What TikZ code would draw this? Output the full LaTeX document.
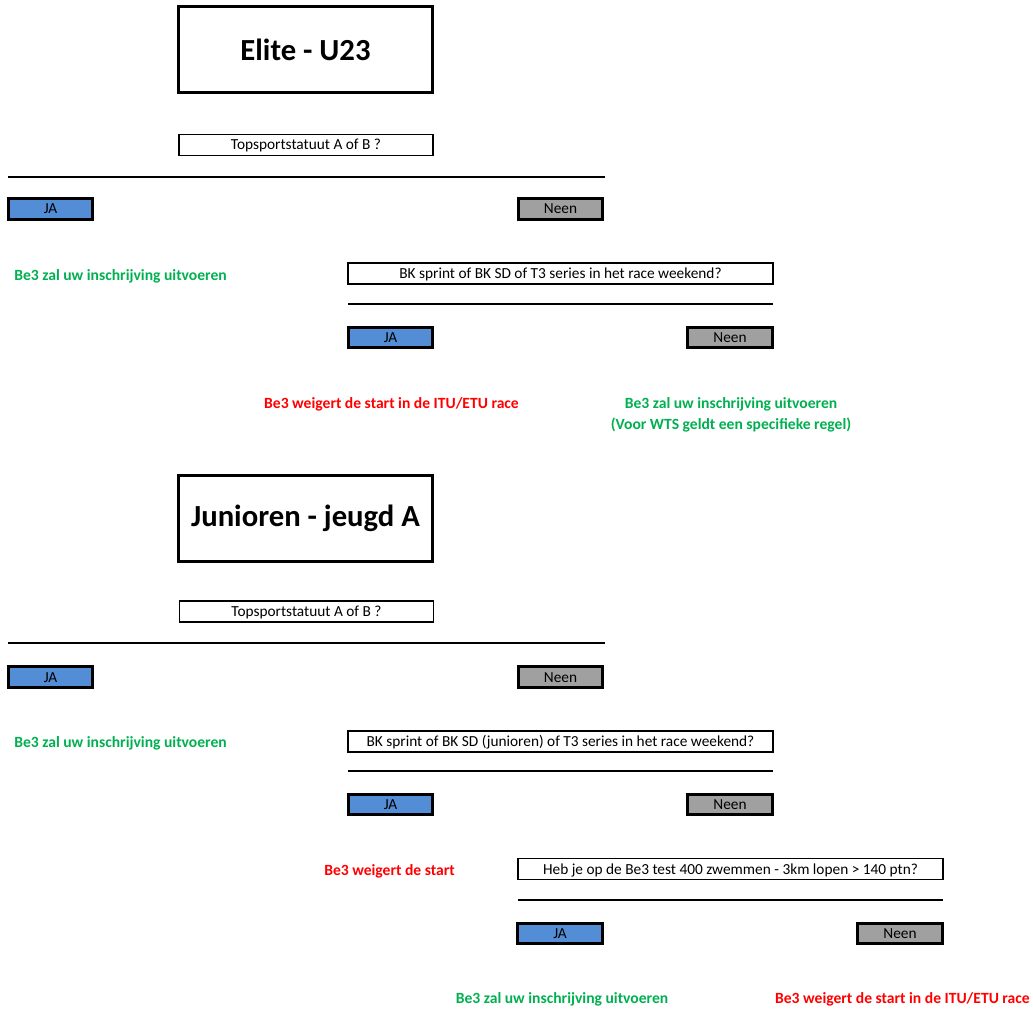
\documentclass[tikz,border=0pt]{standalone}
\usepackage{fontspec}
\setmainfont{Carlito}
\usetikzlibrary{positioning}
\definecolor{jablue}{RGB}{83,141,213}
\definecolor{neengray}{RGB}{160,160,160}
\definecolor{okgreen}{RGB}{0,176,80}
\definecolor{nored}{RGB}{255,0,0}
\tikzset{
  titlebox/.style={draw, line width=2.2pt, minimum width=191pt, minimum height=64pt, font=\bfseries\fontsize{23}{27}\selectfont},
  qbox/.style={draw, line width=0.8pt, minimum height=15.75pt, inner sep=0pt, text height=9pt, text depth=1.5pt, font=\fontsize{11.5}{13}\selectfont},
  jabox/.style={draw, line width=2.1pt, fill=jablue, minimum width=63.5pt, minimum height=15.5pt, inner sep=0pt, text height=9pt, text depth=1.5pt, font=\fontsize{11.5}{13}\selectfont},
  neenbox/.style={jabox, fill=neengray},
  oktext/.style={text=okgreen, font=\bfseries\fontsize{11.7}{15.75}\selectfont, inner sep=0pt},
  notext/.style={text=nored, font=\bfseries\fontsize{11.7}{15.75}\selectfont, inner sep=0pt},
  split/.style={line width=1pt}
}
\begin{document}
\begin{tikzpicture}[x=0.75pt, y=-0.75pt]
\useasboundingbox (0,0) rectangle (1033,1009);
% Elite - U23
\node[titlebox] (elite) at (305.5,49.5) {Elite - U23};
\node[qbox, minimum width=190.5pt] (q1) at (306,145) {Topsportstatuut A of B ?};
\draw[split] (8,177) -- (605,177);
\node[jabox] (ja1) at (50.5,209) {JA};
\node[neenbox] (neen1) at (560.5,209) {Neen};
\node[oktext, anchor=west] (ok1) at (14,276) {Be3 zal uw inschrijving uitvoeren};
\node[qbox, minimum width=318.75pt] (q2) at (560.5,273.5) {BK sprint of BK SD of T3 series in het race weekend?};
\draw[split] (348,304) -- (773,304);
\node[jabox] (ja2) at (390.5,337.5) {JA};
\node[neenbox] (neen2) at (730,337.5) {Neen};
\node[notext] (no2) at (391.5,404) {Be3 weigert de start in de ITU/ETU race};
\node[oktext, align=center] (ok2) at (731,414.5) {Be3 zal uw inschrijving uitvoeren\\(Voor WTS geldt een specifieke regel)};
% Junioren - jeugd A
\node[titlebox] (junior) at (305.5,518.5) {Junioren - jeugd A};
\node[qbox, minimum width=191pt] (q3) at (306.5,611.5) {Topsportstatuut A of B ?};
\draw[split] (8,643) -- (605,643);
\node[jabox] (ja3) at (50.5,677) {JA};
\node[neenbox] (neen3) at (560.5,677) {Neen};
\node[oktext, anchor=west] (ok3) at (14,743) {Be3 zal uw inschrijving uitvoeren};
\node[qbox, minimum width=318.75pt] (q4) at (560.5,741.5) {BK sprint of BK SD (junioren) of T3 series in het race weekend?};
\draw[split] (348,771) -- (773,771);
\node[jabox] (ja4) at (390.5,804.5) {JA};
\node[neenbox] (neen4) at (730,804.5) {Neen};
\node[notext] (no4) at (389.5,871) {Be3 weigert de start};
\node[qbox, minimum width=318.75pt] (q5) at (730.5,869) {Heb je op de Be3 test 400 zwemmen - 3km lopen > 140 ptn?};
\draw[split] (518,900) -- (943,900);
\node[jabox] (ja5) at (560,933.5) {JA};
\node[neenbox] (neen5) at (900,933.5) {Neen};
\node[oktext] (ok5) at (562,999) {Be3 zal uw inschrijving uitvoeren};
\node[notext, anchor=east] (no5) at (1030,999) {Be3 weigert de start in de ITU/ETU race};
\end{tikzpicture}
\end{document}
